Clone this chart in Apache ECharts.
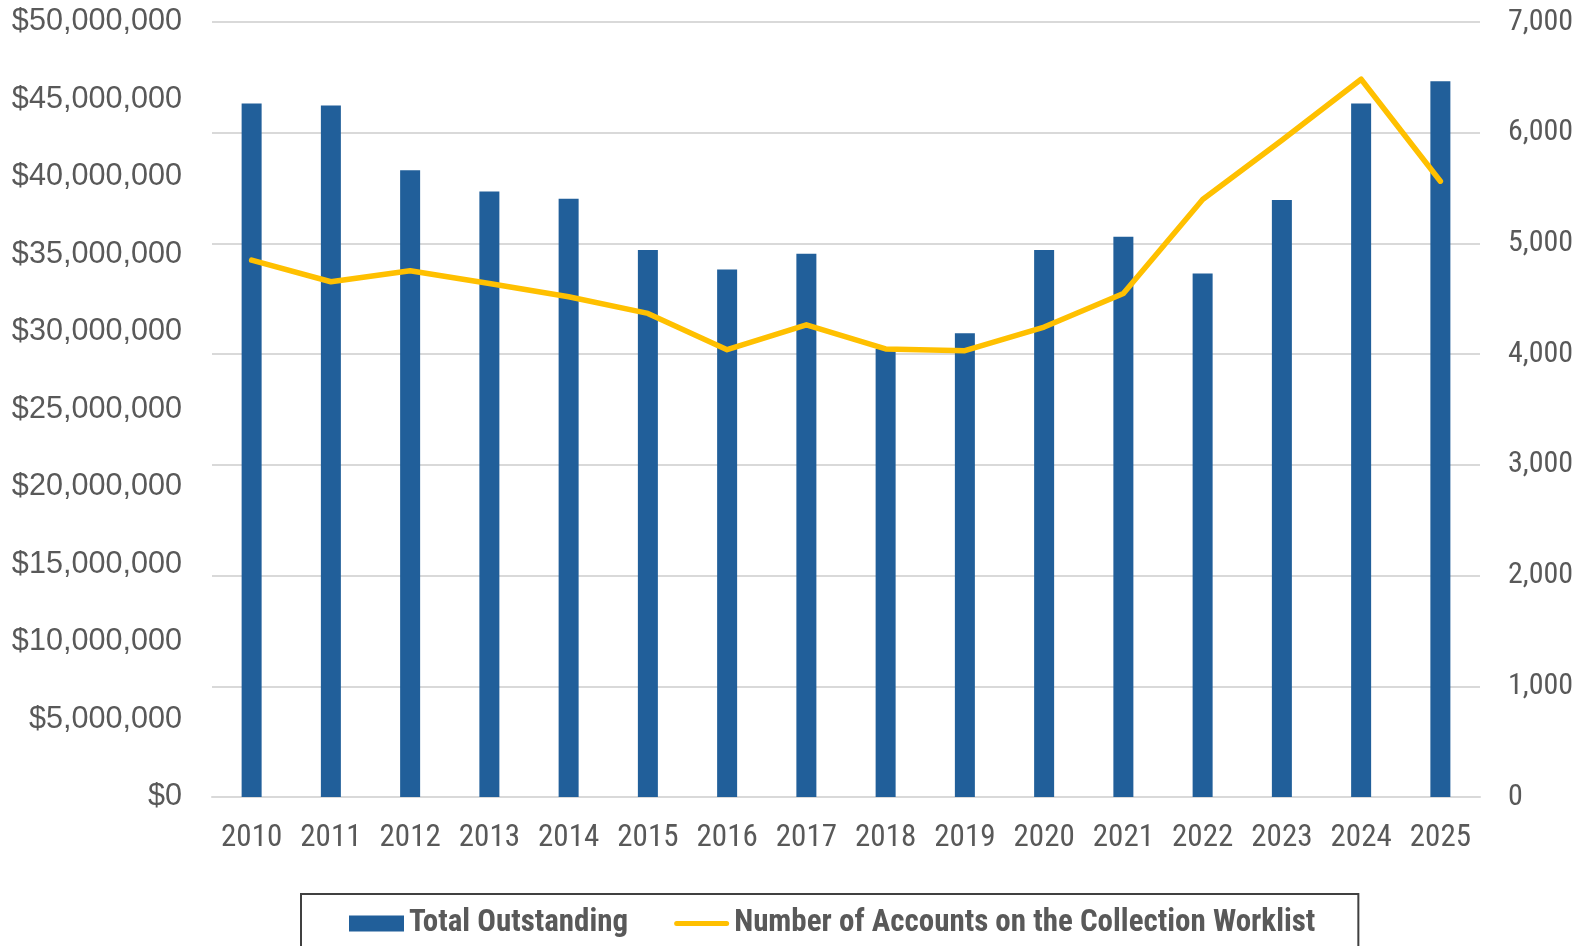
<!DOCTYPE html>
<html>
<head>
<meta charset="utf-8">
<script src="https://cdn.jsdelivr.net/npm/echarts@6/dist/echarts.min.js"></script>
<style>
  html, body { margin: 0; padding: 0; background: #fff; }
  #chart { width: 1587px; height: 946px; }
</style>
</head>
<body>
<div id="chart"></div>
<script>
const years = ['2010', '2011', '2012', '2013', '2014', '2015', '2016', '2017',
  '2018', '2019', '2020', '2021', '2022', '2023', '2024', '2025'];
const totalOutstanding = [44740000, 44610000, 40440000, 39070000, 38600000, 35290000, 34040000, 35050000,
  28900000, 29920000, 35290000, 36140000, 33780000, 38510000, 44740000, 46180000];
const worklistAccounts = [4849, 4654, 4753, 4638, 4518, 4368, 4040, 4265,
  4047, 4031, 4245, 4547, 5397, 5932, 6483, 5562];

const textGray = '#595959';
const gridGray = '#d9d9d9';
const narrow = '"Liberation Sans Narrow", "Arial Narrow", "Roboto Condensed", sans-serif';

const chart = echarts.init(document.getElementById('chart'));

chart.setOption({
  animation: false,
  grid: { left: 212, right: 107, top: 22, bottom: 149 },
  legend: {
    left: 301,
    top: 894,
    orient: 'horizontal',
    borderColor: '#404040',
    borderWidth: 2,
    padding: [14, 43, 60, 48],
    itemGap: 46,
    itemWidth: 55,
    itemHeight: 16,
    textStyle: { color: textGray, fontSize: 31, fontWeight: 'bold', fontFamily: narrow },
    data: [
      { name: 'Total Outstanding', icon: 'rect' },
      { name: 'Number of Accounts on the Collection Worklist', icon: 'path://M0,0M55,16M2.5,5.5h50a2.5,2.5 0 0 1 0,5h-50a2.5,2.5 0 0 1 0,-5z' }
    ]
  },
  xAxis: {
    type: 'category',
    data: years,
    axisLine: { lineStyle: { color: gridGray, width: 2 } },
    axisTick: { show: false },
    axisLabel: { color: textGray, fontSize: 31, fontFamily: narrow, margin: 26, interval: 0 }
  },
  yAxis: [
    {
      type: 'value',
      min: 0,
      max: 50000000,
      interval: 5000000,
      splitLine: { show: false },
      axisLine: { show: false },
      axisTick: { show: false },
      axisLabel: {
        color: textGray,
        fontSize: 30.6,
        fontFamily: '"Liberation Sans", Arial, sans-serif',
        margin: 30,
        formatter: v => '$' + v.toLocaleString('en-US')
      }
    },
    {
      type: 'value',
      min: 0,
      max: 7000,
      interval: 1000,
      position: 'right',
      splitLine: { show: true, lineStyle: { color: gridGray, width: 2 } },
      axisLine: { show: false },
      axisTick: { show: false },
      axisLabel: {
        color: textGray,
        fontSize: 30,
        fontFamily: narrow,
        margin: 28,
        formatter: v => v.toLocaleString('en-US')
      }
    }
  ],
  series: [
    {
      name: 'Total Outstanding',
      type: 'bar',
      yAxisIndex: 0,
      barWidth: 20,
      itemStyle: { color: '#215F9A' },
      data: totalOutstanding
    },
    {
      name: 'Number of Accounts on the Collection Worklist',
      type: 'line',
      yAxisIndex: 1,
      showSymbol: false,
      symbol: 'none',
      lineStyle: { color: '#FFC000', width: 5.5, cap: 'round', join: 'round' },
      itemStyle: { color: '#FFC000' },
      data: worklistAccounts
    }
  ]
});
</script>
</body>
</html>
